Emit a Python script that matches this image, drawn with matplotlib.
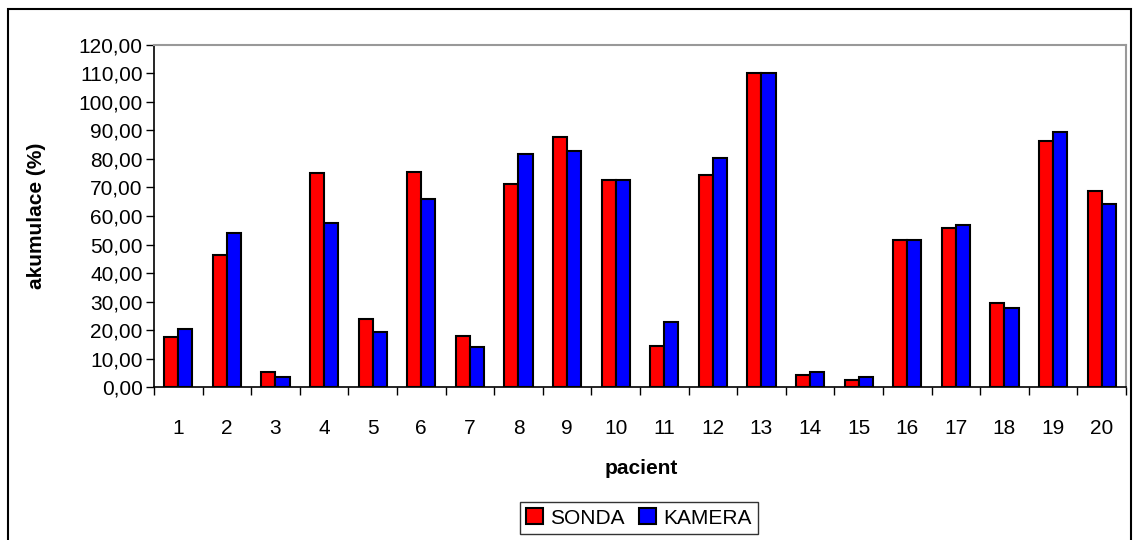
import matplotlib.pyplot as plt
import numpy as np
from matplotlib.patches import Rectangle
from matplotlib.ticker import FuncFormatter, FixedLocator

plt.rcParams['font.family'] = ['Liberation Sans', 'DejaVu Sans']

pacient = [str(i) for i in range(1, 21)]
sonda = [17.6, 46.3, 5.3, 75.1, 24.0, 75.5, 18.0, 71.4, 87.6, 72.5,
         14.5, 74.4, 110.3, 4.2, 2.3, 51.6, 55.7, 29.4, 86.4, 68.9]
kamera = [20.4, 54.1, 3.6, 57.6, 19.2, 66.0, 13.9, 81.6, 82.8, 72.5,
          22.8, 80.4, 110.3, 5.4, 3.6, 51.6, 57.0, 27.6, 89.5, 64.2]

fig = plt.figure(figsize=(11.33, 5.4), dpi=100)
ax = fig.add_axes([0.1359, 0.2833, 0.8579, 0.6334])

# outer chart frame
fig.patches.append(Rectangle((8 / 1133, -0.05), 1123 / 1133, 1 - 9 / 540 + 0.05,
                             transform=fig.transFigure, fill=False,
                             edgecolor='black', linewidth=1.5))

x = np.arange(len(pacient))
w = 0.29
ax.bar(x - w / 2, sonda, w, color='#ff0000', edgecolor='black', linewidth=1.5, label='SONDA')
ax.bar(x + w / 2, kamera, w, color='#0000ff', edgecolor='black', linewidth=1.5, label='KAMERA')

ax.set_xlim(-0.5, len(pacient) - 0.5)
ax.set_ylim(0, 120)
ax.set_yticks(np.arange(0, 121, 10))
ax.yaxis.set_major_formatter(FuncFormatter(lambda v, p: f"{v:.2f}".replace('.', ',')))

ax.set_xticks(x)
ax.set_xticklabels(pacient)
ax.xaxis.set_minor_locator(FixedLocator(np.arange(-0.5, len(pacient), 1)))
ax.tick_params(axis='x', which='major', length=0, pad=23, labelsize=15)
ax.tick_params(axis='x', which='minor', length=6, width=1, direction='out')
ax.tick_params(axis='y', length=6, width=1, direction='out', labelsize=15, pad=2)

for s in ['top', 'right']:
    ax.spines[s].set_color('#999999')
    ax.spines[s].set_linewidth(1.5)
for s in ['left', 'bottom']:
    ax.spines[s].set_color('black')
    ax.spines[s].set_linewidth(1.2)

ax.set_ylabel('akumulace (%)', fontsize=15, fontweight='bold')
ax.yaxis.set_label_coords(-0.111, 0.5)
ax.set_xlabel('pacient', fontsize=15, fontweight='bold')
ax.xaxis.set_label_coords(0.501, -0.21)

leg = fig.legend(loc='center', bbox_to_anchor=(639 / 1133, 1 - 518 / 540), ncol=2,
                 fontsize=15, frameon=True, fancybox=False, edgecolor='black',
                 handlelength=0.8, handleheight=0.8, handletextpad=0.35,
                 columnspacing=0.7, borderpad=0.3)
leg.get_frame().set_linewidth(1.0)

fig.savefig('out.png', dpi=100)
